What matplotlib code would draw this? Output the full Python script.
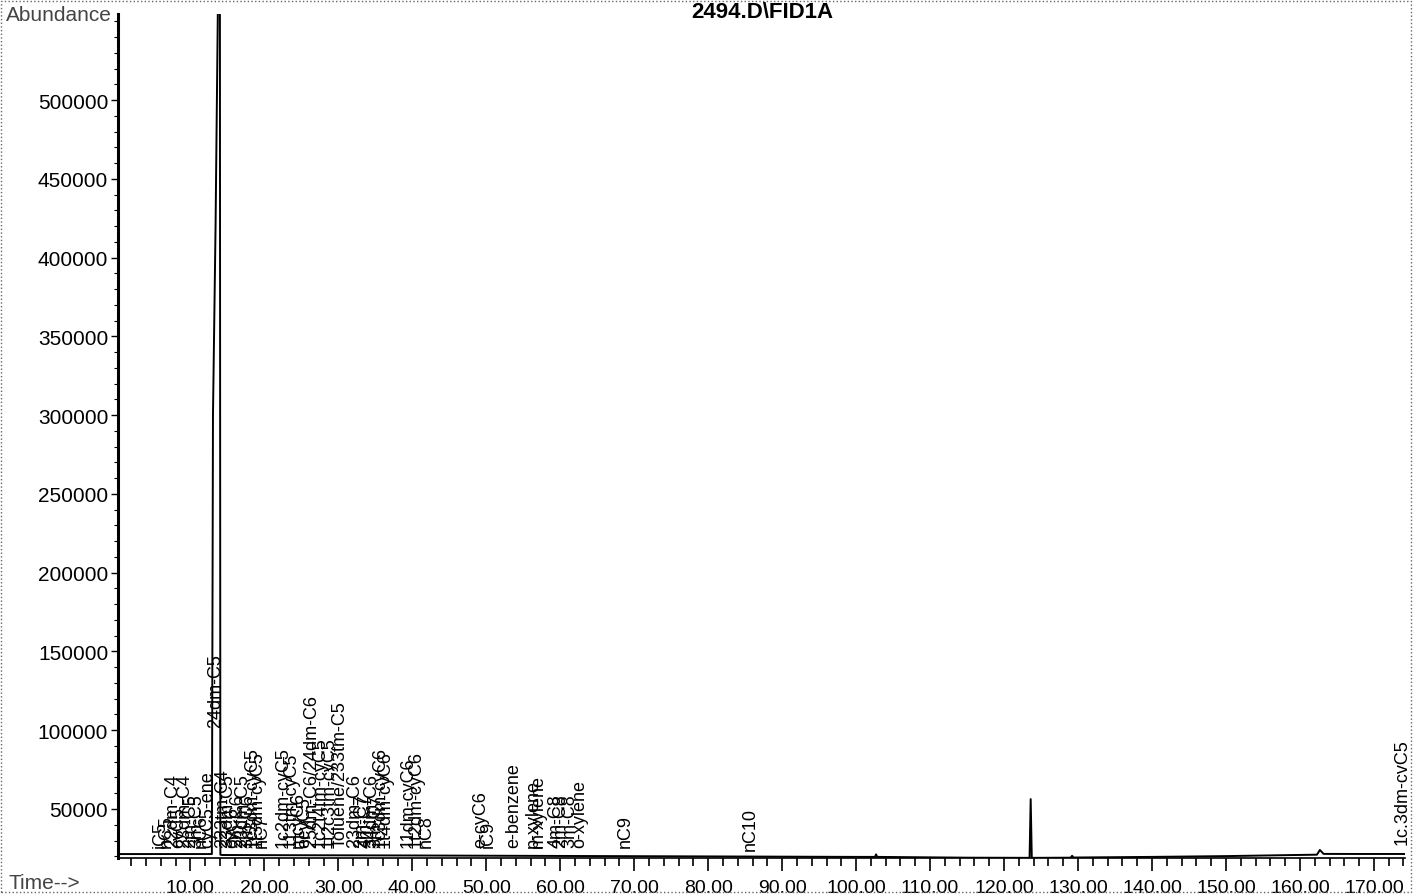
import numpy as np
import matplotlib
matplotlib.use("Agg")
import matplotlib.pyplot as plt
import matplotlib.ticker as ticker
from matplotlib.patches import Rectangle

plt.rcParams['font.family'] = ['Liberation Sans', 'DejaVu Sans']

# FID trace (time in min, abundance)
trace_time = [0.3, 12.9, 12.97, 13.05, 13.4, 13.85, 13.98, 14.05, 14.3, 20.0,
              40.0, 60.0, 80.0, 100.0, 102.55, 102.7, 102.85, 115.0, 123.45,
              123.6, 123.75, 129.0, 129.2, 129.4, 140.0, 150.0, 158.0, 162.3,
              162.7, 163.2, 168.0, 174.3]
trace_abund = [21400, 21400, 150000, 300000, 420000, 620000, 620000, 21000,
               20800, 20700, 20500, 20200, 19900, 19600, 19600, 21200, 19600,
               19100, 19000, 56300, 19000, 19100, 20300, 19200, 19600, 20100,
               20700, 21000, 24000, 21500, 21450, 21450]

# peak labels: compound, retention time (min), abundance where label starts
peak_names = ["iC5", "nC5", "22dm-C4", "cyC5", "23dm-C4", "2m-C5", "3m-C5",
              "nC6", "cyC5-ene", "24dm-C5",
              "223tm-C4", "33dm-C5", "cyC6", "2m-C6", "23dm-C5", "3m-C6",
              "1c3dm-cyC5", "1t3dm-cyC5", "nC7",
              "1c2dm-cyC5", "113tm-cyC5", "mcyC6", "ecyC5", "25dm-C6/24dm-C6",
              "1c2t4tm-cyC5", "1t2c3tm-cyC5", "Toluene/233tm-C5", "23dm-C6",
              "2m-C7", "4m-C7", "34dm-C6", "3m-C7", "1c3dm-cyC6", "1t4dm-cyC6",
              "11dm-cyC6", "1t2dm-cyC6", "nC8",
              "e-cyC6", "iC9", "e-benzene", "p-xylene", "m-xylene", "4m-C8",
              "2m-C8", "3m-C8", "o-xylene", "nC9", "nC10", "1c.3dm-cvC5"]
peak_times = [5.95, 6.76, 7.57, 8.38, 9.19, 10.0, 10.81, 11.49, 12.3, 13.35,
              14.4, 15.05, 15.7, 16.35, 17.03, 17.7, 18.38, 19.05, 19.73,
              22.57, 23.65, 24.59, 25.41, 26.35,
              27.6, 28.8, 30.3, 32.2,
              33.2, 33.8, 34.5, 35.1, 35.6, 36.3,
              39.4, 40.5, 41.9,
              49.19, 50.27, 53.65, 56.35, 57.03, 59.46,
              60.0, 61.35, 62.7, 68.78, 85.68, 173.78]
peak_base = [25900] * len(peak_names)
peak_base[peak_names.index("24dm-C5")] = 102000
peak_base[peak_names.index("nC10")] = 24000
peak_base[peak_names.index("1c.3dm-cvC5")] = 28000

abund_ticks = [50000 * k for k in range(1, 11)]

fig = plt.figure(figsize=(14.14, 8.95), dpi=100)
ax = fig.add_axes([0.0834, 0.0397, 0.9102, 0.9435])

ax.plot(trace_time, trace_abund, color='black', linewidth=1.4)

for name, t, base in zip(peak_names, peak_times, peak_base):
    ax.text(t, base, name, rotation=90, ha='center', va='bottom',
            fontsize=13, color='black', clip_on=False)

ax.set_xlim(0.2, 174.2)
ax.set_ylim(18600, 554600)

ax.xaxis.set_major_locator(ticker.MultipleLocator(10))
ax.xaxis.set_minor_locator(ticker.MultipleLocator(2))
ax.xaxis.set_major_formatter(ticker.FormatStrFormatter('%.2f'))
ax.yaxis.set_major_locator(ticker.FixedLocator(abund_ticks))
ax.yaxis.set_minor_locator(ticker.MultipleLocator(10000))
ax.yaxis.set_major_formatter(ticker.FormatStrFormatter('%d'))

ax.tick_params(axis='x', which='major', length=9, width=1.2, labelsize=14,
               pad=6, direction='out')
ax.tick_params(axis='x', which='minor', length=6, width=1.2, direction='out')
ax.tick_params(axis='y', which='major', length=5, width=1.0, labelsize=15,
               pad=2, direction='out')
ax.tick_params(axis='y', which='minor', length=3, width=0.8, direction='out')

for side in ['top', 'right']:
    ax.spines[side].set_visible(False)
ax.spines['left'].set_linewidth(2.2)
ax.spines['bottom'].set_linewidth(1.2)

fig.text(0.539, 0.986, "2494.D\\FID1A", ha='center', va='center',
         fontsize=16, fontweight='bold')
fig.text(0.004, 0.983, "Abundance", ha='left', va='center', fontsize=15,
         color='#444444')
fig.text(0.006, 0.013, "Time-->", ha='left', va='center', fontsize=15,
         color='#444444')

# dotted frame round the whole page
fig.patches.append(Rectangle((0.001, 0.002), 0.997, 0.996,
                             transform=fig.transFigure, fill=False,
                             linestyle=':', linewidth=1.0, edgecolor='#666666'))

fig.savefig('out.png', dpi=100)
